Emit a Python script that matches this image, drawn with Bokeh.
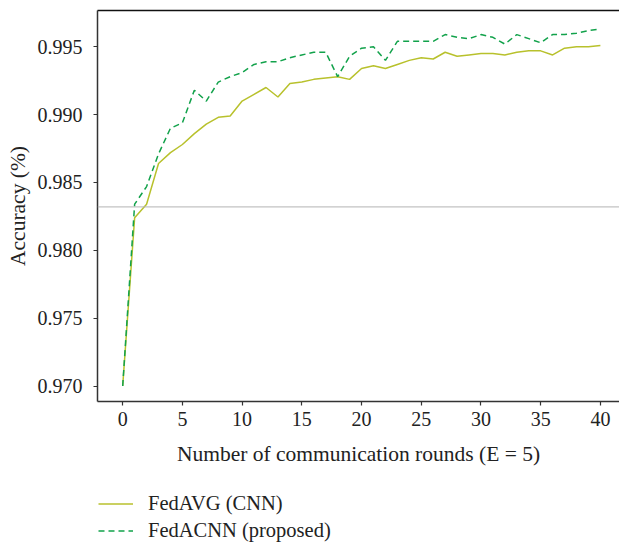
from bokeh.plotting import figure
from bokeh.layouts import column
from bokeh.models import Range1d, FixedTicker, NumeralTickFormatter, Legend, LegendItem, Span, LinearAxis
from bokeh.embed import file_html
from bokeh.resources import INLINE

rounds = list(range(41))
fedavg = [0.9700, 0.9824, 0.9834, 0.9864, 0.9872, 0.9878, 0.9886, 0.9893, 0.9898, 0.9899,
          0.9910, 0.9915, 0.9920, 0.9913, 0.9923, 0.9924, 0.9926, 0.9927, 0.9928, 0.9926,
          0.9934, 0.9936, 0.9934, 0.9937, 0.9940, 0.9942, 0.9941, 0.9946, 0.9943, 0.9944,
          0.9945, 0.9945, 0.9944, 0.9946, 0.9947, 0.9947, 0.9944, 0.9949, 0.9950, 0.9950,
          0.9951]
fedacnn = [0.9700, 0.9834, 0.9847, 0.9871, 0.9890, 0.9894, 0.9918, 0.9910, 0.9924, 0.9928,
           0.9931, 0.9937, 0.9939, 0.9939, 0.9942, 0.9944, 0.9946, 0.9946, 0.9928, 0.9943,
           0.9949, 0.9950, 0.9940, 0.9954, 0.9954, 0.9954, 0.9954, 0.9959, 0.9957, 0.9956,
           0.9959, 0.9957, 0.9952, 0.9959, 0.9956, 0.9953, 0.9959, 0.9959, 0.9960, 0.9962,
           0.9963]
ref_level = 0.9832
x_ticks = [0, 5, 10, 15, 20, 25, 30, 35, 40]
y_ticks = [0.970, 0.975, 0.980, 0.985, 0.990, 0.995]
labels = ["FedAVG (CNN)", "FedACNN (proposed)"]

FONT = "Liberation Serif"
C_AVG = "#b8c12c"
C_ACNN = "#12a24b"
AX = "#333333"
TXT = "#222222"

p = figure(frame_width=522, frame_height=391, output_backend="svg", toolbar_location=None,
           x_range=Range1d(-2.11, 41.6), y_range=Range1d(0.96886, 0.997675),
           min_border_left=97, min_border_right=0, min_border_top=10, min_border_bottom=81)
p.outline_line_color = None
p.xgrid.visible = False
p.ygrid.visible = False

p.add_layout(Span(location=ref_level, dimension="width", line_color="#b4b4b4", line_width=1))

p.line(rounds, fedavg, line_color=C_AVG, line_width=1.5)
p.line(rounds, fedacnn, line_color=C_ACNN, line_width=1.5, line_dash="6 4")

for ax in (p.xaxis[0], p.yaxis[0]):
    ax.axis_line_color = AX
    ax.axis_line_width = 1.5
    ax.major_tick_line_color = AX
    ax.major_tick_line_width = 1.2
    ax.major_tick_out = 4
    ax.major_tick_in = 0
    ax.minor_tick_line_color = None
    ax.major_label_text_font = FONT
    ax.major_label_text_font_size = "20px"
    ax.major_label_text_color = TXT
    ax.axis_label_text_font = FONT
    ax.axis_label_text_font_size = "21.5px"
    ax.axis_label_text_font_style = "normal"
    ax.axis_label_text_color = TXT

p.xaxis.ticker = FixedTicker(ticks=x_ticks)
p.yaxis.ticker = FixedTicker(ticks=y_ticks)
p.yaxis.formatter = NumeralTickFormatter(format="0.000")
p.xaxis.axis_label = "Number of communication rounds (E = 5)"
p.yaxis.axis_label = "Accuracy (%)"
p.xaxis.major_label_standoff = 6
p.xaxis.axis_label_standoff = 13
p.yaxis.major_label_standoff = 11
p.yaxis.axis_label_standoff = 5

top = LinearAxis(axis_line_color="#111111", axis_line_width=1.5, major_tick_line_color=None,
                 minor_tick_line_color=None, major_label_text_font_size="0px",
                 major_label_standoff=0, major_tick_out=0)
top.ticker = FixedTicker(ticks=[])
p.add_layout(top, "above")

# legend strip below the chart
q = figure(width=619, height=60, output_backend="svg", toolbar_location=None,
           x_axis_type=None, y_axis_type=None,
           x_range=Range1d(1000, 1001), y_range=Range1d(0, 1),
           min_border_left=0, min_border_right=0, min_border_top=0, min_border_bottom=0)
q.outline_line_color = None
q.xgrid.visible = False
q.ygrid.visible = False
l1 = q.line(rounds, fedavg, line_color=C_AVG, line_width=1.5)
l2 = q.line(rounds, fedacnn, line_color=C_ACNN, line_width=1.5, line_dash="6 4")

legend = Legend(items=[LegendItem(label=labels[0], renderers=[l1]),
                       LegendItem(label=labels[1], renderers=[l2])],
                location=(1, 0), orientation="vertical")
legend.label_text_font = FONT
legend.label_text_font_size = "20.5px"
legend.label_text_color = TXT
legend.glyph_width = 35
legend.glyph_height = 21
legend.label_height = 21
legend.label_standoff = 15
legend.spacing = 4
legend.padding = 0
legend.margin = 0
legend.border_line_color = None
legend.background_fill_alpha = 0
q.add_layout(legend, "center")

layout = column(p, q, spacing=0)
open("out.html", "w").write(file_html(layout, INLINE))
